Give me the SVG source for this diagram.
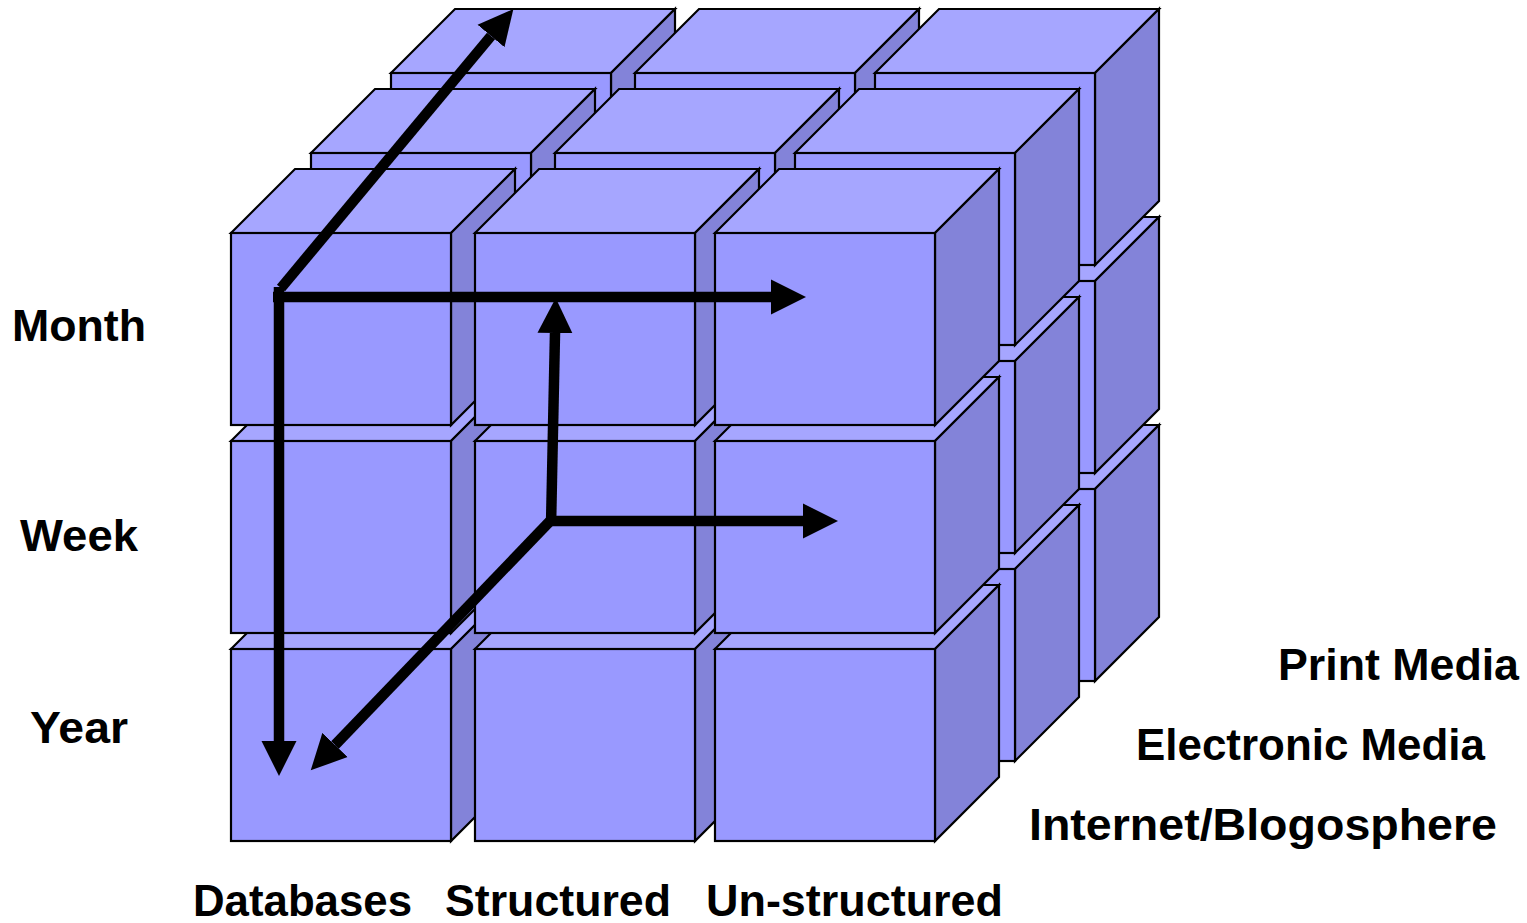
<svg xmlns="http://www.w3.org/2000/svg" xmlns:xlink="http://www.w3.org/1999/xlink" width="1527" height="923" viewBox="0 0 1527 923">
  <style>
    .front { fill: #9999FF; }
    .top { fill: #A6A6FF; }
    .side { fill: #8383D9; }
    .cube polygon, .cube rect { stroke: #000; stroke-width: 2.2; stroke-linejoin: miter; }
    .axis { stroke: #000; stroke-width: 10.5; fill: none; stroke-linecap: butt; }
    .label { font-family: "Liberation Sans", Arial, sans-serif; font-weight: bold; font-size: 44px; fill: #000; }
  </style>
  <defs>
    <!-- one cell of the data cube; origin at the top-left corner of its front face -->
    <g id="cube" class="cube">
      <polygon class="top" points="0,0 64,-64 284,-64 220,0"/>
      <polygon class="side" points="220,0 284,-64 284,128 220,192"/>
      <rect class="front" x="0" y="0" width="220" height="192"/>
    </g>
    <marker id="head" markerUnits="userSpaceOnUse" markerWidth="36" markerHeight="36" refX="0" refY="18" orient="auto-start-reverse" viewBox="0 0 36 36">
      <path d="M0,0.5 L35,18 L0,35.5 Z" fill="#000"/>
    </marker>
  </defs>

  <rect width="1527" height="923" fill="#fff"/>

  <!-- back layer (Print Media) -->
  <g id="layer-back">
    <use id="cube-b-r3-c1" xlink:href="#cube" x="391" y="489"/>
    <use id="cube-b-r3-c2" xlink:href="#cube" x="635" y="489"/>
    <use id="cube-b-r3-c3" xlink:href="#cube" x="875" y="489"/>
    <use id="cube-b-r2-c1" xlink:href="#cube" x="391" y="281"/>
    <use id="cube-b-r2-c2" xlink:href="#cube" x="635" y="281"/>
    <use id="cube-b-r2-c3" xlink:href="#cube" x="875" y="281"/>
    <use id="cube-b-r1-c1" xlink:href="#cube" x="391" y="73"/>
    <use id="cube-b-r1-c2" xlink:href="#cube" x="635" y="73"/>
    <use id="cube-b-r1-c3" xlink:href="#cube" x="875" y="73"/>
  </g>

  <!-- middle layer (Electronic Media) -->
  <g id="layer-middle">
    <use id="cube-m-r3-c1" xlink:href="#cube" x="311" y="569"/>
    <use id="cube-m-r3-c2" xlink:href="#cube" x="555" y="569"/>
    <use id="cube-m-r3-c3" xlink:href="#cube" x="795" y="569"/>
    <use id="cube-m-r2-c1" xlink:href="#cube" x="311" y="361"/>
    <use id="cube-m-r2-c2" xlink:href="#cube" x="555" y="361"/>
    <use id="cube-m-r2-c3" xlink:href="#cube" x="795" y="361"/>
    <use id="cube-m-r1-c1" xlink:href="#cube" x="311" y="153"/>
    <use id="cube-m-r1-c2" xlink:href="#cube" x="555" y="153"/>
    <use id="cube-m-r1-c3" xlink:href="#cube" x="795" y="153"/>
  </g>

  <!-- front layer (Internet/Blogosphere) -->
  <g id="layer-front">
    <use id="cube-f-r3-c1" xlink:href="#cube" x="231" y="649"/>
    <use id="cube-f-r3-c2" xlink:href="#cube" x="475" y="649"/>
    <use id="cube-f-r3-c3" xlink:href="#cube" x="715" y="649"/>
    <use id="cube-f-r2-c1" xlink:href="#cube" x="231" y="441"/>
    <use id="cube-f-r2-c2" xlink:href="#cube" x="475" y="441"/>
    <use id="cube-f-r2-c3" xlink:href="#cube" x="715" y="441"/>
    <use id="cube-f-r1-c1" xlink:href="#cube" x="231" y="233"/>
    <use id="cube-f-r1-c2" xlink:href="#cube" x="475" y="233"/>
    <use id="cube-f-r1-c3" xlink:href="#cube" x="715" y="233"/>
  </g>

  <!-- axis arrows -->
  <g id="connectors">
    <line class="axis" x1="281" y1="288" x2="491" y2="36" marker-end="url(#head)"/>
    <line class="axis" x1="273" y1="297" x2="771" y2="297" marker-end="url(#head)"/>
    <line class="axis" x1="279" y1="287" x2="279" y2="741" marker-end="url(#head)"/>
    <line class="axis" x1="551" y1="526" x2="555" y2="333" marker-end="url(#head)"/>
    <line class="axis" x1="546" y1="521" x2="803" y2="521" marker-end="url(#head)"/>
    <line class="axis" x1="553" y1="518" x2="335" y2="745" marker-end="url(#head)"/>
  </g>

  <!-- time axis labels -->
  <g id="label-month"><text class="label" x="12" y="341" textLength="134" lengthAdjust="spacingAndGlyphs">Month</text></g>
  <g id="label-week"><text class="label" x="20" y="551" textLength="118" lengthAdjust="spacingAndGlyphs">Week</text></g>
  <g id="label-year"><text class="label" x="30" y="743" textLength="98" lengthAdjust="spacingAndGlyphs">Year</text></g>

  <!-- source depth labels -->
  <g id="label-print"><text class="label" x="1278" y="680" textLength="241" lengthAdjust="spacingAndGlyphs">Print Media</text></g>
  <g id="label-electronic"><text class="label" x="1136" y="760" textLength="349" lengthAdjust="spacingAndGlyphs">Electronic Media</text></g>
  <g id="label-internet"><text class="label" x="1029" y="840" textLength="468" lengthAdjust="spacingAndGlyphs">Internet/Blogosphere</text></g>

  <!-- data type labels -->
  <g id="label-databases"><text class="label" x="193" y="916" textLength="219" lengthAdjust="spacingAndGlyphs">Databases</text></g>
  <g id="label-structured"><text class="label" x="445" y="916" textLength="226" lengthAdjust="spacingAndGlyphs">Structured</text></g>
  <g id="label-unstructured"><text class="label" x="706" y="916" textLength="297" lengthAdjust="spacingAndGlyphs">Un-structured</text></g>
</svg>
